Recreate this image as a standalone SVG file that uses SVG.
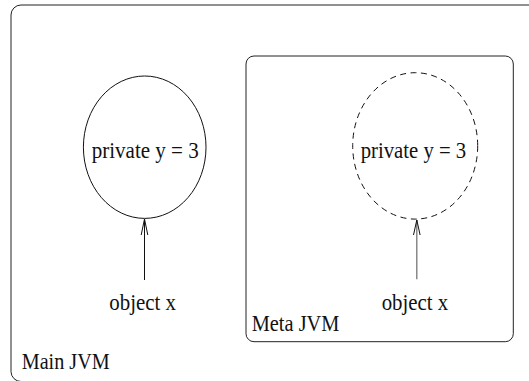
<svg xmlns="http://www.w3.org/2000/svg" width="529" height="381" viewBox="0 0 529 381">
<style>
.box{fill:none;stroke:#222;stroke-width:1}
.node{fill:none;stroke:#111;stroke-width:1}
.dash{stroke-dasharray:6 4.5}
.t{font-family:"Liberation Serif","Times New Roman",serif;font-size:22.6px;fill:#111}
.head{fill:none;stroke:#111;stroke-width:1}
</style>
<rect width="529" height="381" fill="#fff"/>
<g id="main-jvm">
<rect class="box" x="11" y="5" width="540" height="376.5" rx="10" ry="10"/>
<text class="t" x="21.7" y="369.3" textLength="88" lengthAdjust="spacingAndGlyphs">Main JVM</text>
</g>
<g id="meta-jvm">
<rect class="box" x="246" y="56" width="267.3" height="285.7" rx="8" ry="8"/>
<text class="t" x="251.7" y="330.7" textLength="87.7" lengthAdjust="spacingAndGlyphs">Meta JVM</text>
</g>
<g id="main-private">
<ellipse class="node" cx="144.7" cy="147.2" rx="61.3" ry="71.2"/>
<text class="t" x="91.7" y="158.3" textLength="107" lengthAdjust="spacingAndGlyphs">private y = 3</text>
</g>
<g id="meta-private">
<ellipse class="node dash" cx="415.2" cy="145.9" rx="62.5" ry="73.2"/>
<text class="t" x="360.7" y="158.3" textLength="105.5" lengthAdjust="spacingAndGlyphs">private y = 3</text>
</g>
<g id="main-object">
<text class="t" x="109.3" y="310" textLength="66.7" lengthAdjust="spacingAndGlyphs">object x</text>
</g>
<g id="meta-object">
<text class="t" x="381.7" y="310" textLength="66.6" lengthAdjust="spacingAndGlyphs">object x</text>
</g>
<g id="connectors">
<line x1="144.5" y1="280" x2="144.5" y2="219" stroke="#111" stroke-width="1"/>
<path class="head" d="M141.2 235 L144.5 219 L147.8 235"/>
<line x1="416.8" y1="279.3" x2="416.8" y2="220" stroke="#777" stroke-width="1.3"/>
<path class="head" d="M413.5 235 L416.8 220 L420.1 235"/>
</g>
</svg>
